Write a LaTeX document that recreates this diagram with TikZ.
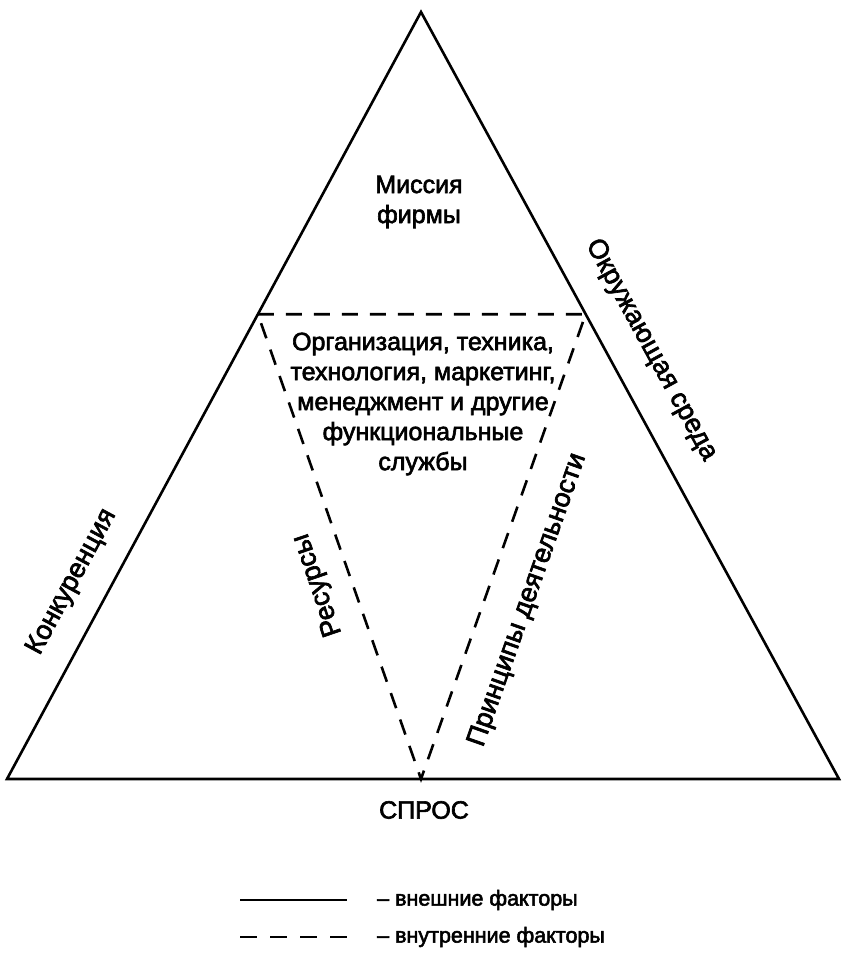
\documentclass[tikz,border=0pt]{standalone}
\usepackage{fontspec}
\setmainfont{Liberation Sans}[FakeBold=2.5]
\usetikzlibrary{calc}
\tikzset{
  outer/.style={line width=2.6pt, line join=miter},
  inner/.style={line width=2.6pt, dash pattern=on 16pt off 12pt},
  lbl/.style={font=\fontsize{25}{30}\selectfont, align=center, inner sep=0pt},
  sidelbl/.style={font=\fontsize{27}{30}\selectfont, inner sep=0pt},
  keylbl/.style={font=\fontsize{21.5}{24}\selectfont, anchor=west, inner sep=0pt}
}
\begin{document}
\begin{tikzpicture}[x=1pt,y=-1pt]
  \useasboundingbox (0,0) rectangle (842,959);

  % outer triangle: external factors
  \coordinate (A) at (421,12);
  \coordinate (L) at (7,779);
  \coordinate (R) at (839,779);
  \draw[outer] (A) -- (R) -- (L) -- cycle;

  % inner inverted triangle: internal factors
  \coordinate (P) at ($(A)!0.394!(L)$);
  \coordinate (Q) at ($(A)!0.394!(R)$);
  \coordinate (S) at (421,779);
  \draw[inner] (P) -- (Q) -- (S) -- cycle;

  % labels
  \node[lbl] (mission) at (419,202) {Миссия\\фирмы};
  \node[lbl] (func) at (423,404) {Организация, техника,\\технология, маркетинг,\\менеджмент и другие\\функциональные\\службы};
  \node[lbl] (demand) at (424,810) {СПРОС};

  \node[sidelbl, rotate=-61.4] (env) at (651,350) {Окружающая среда};
  \node[sidelbl, rotate=61.7] (comp) at (72,582) {Конкуренция};
  \node[sidelbl, rotate=108.8] (res) at (318,585) {Ресурсы};
  \node[sidelbl, rotate=70.6] (princ) at (528,600) {Принципы деятельности};

  % legend
  \coordinate (k1a) at (240,900);
  \coordinate (k1b) at (347,900);
  \coordinate (k2a) at (240,937);
  \coordinate (k2b) at (347,937);
  \draw[outer] (k1a) -- (k1b);
  \draw[line width=2.6pt, dash pattern=on 17pt off 13pt] (k2a) -- (k2b);
  \node[keylbl] (ext) at (377,900) {– внешние факторы};
  \node[keylbl] (int) at (377,937) {– внутренние факторы};
\end{tikzpicture}
\end{document}
